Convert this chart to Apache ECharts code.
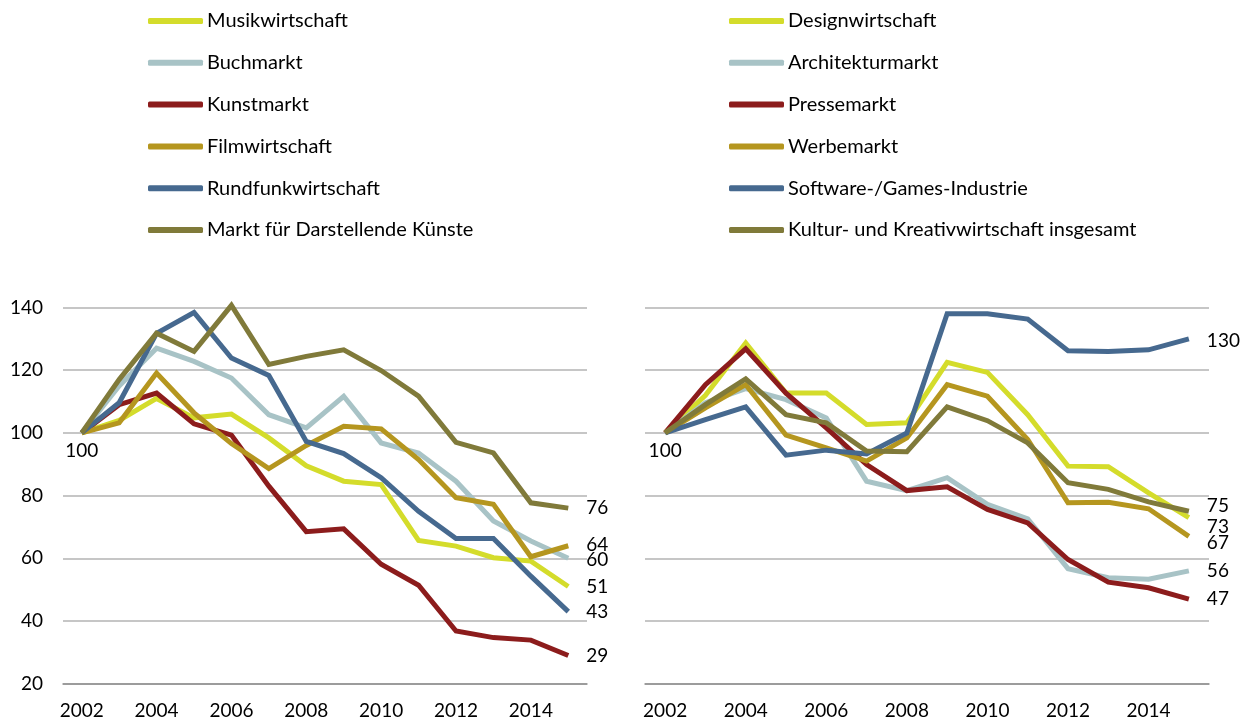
<!DOCTYPE html>
<html>
<head>
<meta charset="utf-8">
<script src="https://cdn.jsdelivr.net/npm/echarts@6/dist/echarts.min.js"></script>
<style>html,body{margin:0;padding:0;background:#fff;}#c{width:1248px;height:722px;}</style>
</head>
<body>
<div id="c"></div>
<script>
const years = ['2002','2003','2004','2005','2006','2007','2008','2009','2010','2011','2012','2013','2014','2015'];
const yTicks = [20, 40, 60, 80, 100, 120, 140];

// Left panel
const leftNames = ['Musikwirtschaft','Buchmarkt','Kunstmarkt','Filmwirtschaft','Rundfunkwirtschaft','Markt für Darstellende Künste'];
const musik    = [100,104,111,104.8,106,98.4,89.5,84.6,83.5,65.7,63.9,60.2,59.1,51];
const buch     = [100,115,127,122.8,117.5,105.8,101.6,111.7,96.8,93.6,84.6,71.9,65.5,60];
const kunst    = [100,109,112.7,102.9,99.3,83,68.5,69.4,58.1,51.4,36.8,34.7,33.9,29];
const film     = [100,103.2,119.1,106.4,96.6,88.6,96,102.1,101.3,91.5,79.3,77.2,60.5,64];
const rundfunk = [100,109.6,131.8,138.4,123.9,118.3,97.3,93.4,85.7,75,66.3,66.3,54.3,43];
const darst    = [100,117,131.8,126,140.7,121.8,124.4,126.5,119.9,111.7,97,93.6,77.7,76];

// Right panel
const rightNames = ['Designwirtschaft','Architekturmarkt','Pressemarkt','Werbemarkt','Software-/Games-Industrie','Kultur- und Kreativwirtschaft insgesamt'];
const design   = [100,112,128.7,112.7,112.7,102.7,103.2,122.5,119.3,105.8,89.4,89.2,80.9,73];
const archi    = [100,109.6,114.1,110.6,104.8,84.6,81.6,85.7,77.2,72.6,56.7,53.8,53.3,56];
const presse   = [100,115.4,126.8,112.7,101.6,89.9,81.6,82.8,75.6,71.3,59.6,52.4,50.6,47];
const werbe    = [100,108,115.4,99.3,95.2,91,98.4,115.4,111.7,97.9,77.7,77.9,75.8,67];
const software = [100,104.2,108.3,92.9,94.5,93.3,100,138,138,136.3,126.2,126,126.5,130];
const kkw      = [100,109,117.2,105.8,103.2,94.2,94,108.3,103.9,96.8,84.1,82,78,75];

const colors = ['#d4dc2b','#a8c3c6','#8c1c1c','#b5961f','#46698f','#807a3a'];
const FONT = 'Lato';

const leftData = [musik, buch, kunst, film, rundfunk, darst];
const rightData = [design, archi, presse, werbe, software, kkw];
const leftLabelOffsets = [[0,0],[0,2],[0,0],[0,-1],[0,0],[0,0]];
const rightLabelOffsets = [[0,9],[0,0],[0,0],[0,7],[0,2],[0,-5]];

function makeSeries(names, datas, idx, offsets) {
  return names.map((n, i) => ({
    name: n,
    type: 'line',
    xAxisIndex: idx,
    yAxisIndex: idx,
    clip: false,
    symbol: 'circle',
    symbolSize: 0,
    showSymbol: true,
    lineStyle: { width: 5, color: colors[i], join: 'miter', cap: 'butt' },
    itemStyle: { color: colors[i] },
    z: 2 + i,
    data: datas[i].map((v, j) => (i === 0 && j === 0) ? {
      value: v,
      label: { show: true, position: 'bottom', distance: 8, formatter: '100', color: '#000', fontFamily: FONT, fontSize: 19 }
    } : v),
    endLabel: {
      show: true,
      distance: 18,
      offset: offsets[i],
      formatter: p => String(Math.round(p.value)),
      color: '#000',
      fontFamily: FONT,
      fontSize: 19
    },
    emphasis: { disabled: true }
  }));
}

const legendCommon = {
  orient: 'vertical',
  icon: 'roundRect',
  padding: 0,
  itemWidth: 55,
  itemHeight: 6,
  itemGap: 21.8,
  textStyle: { fontFamily: FONT, fontSize: 20, color: '#000', lineHeight: 20, padding: [0,0,0,-1] },
  selectedMode: false
};

const xAxisCommon = {
  type: 'category',
  data: years,
  boundaryGap: true,
  axisTick: { show: false },
  axisLine: { show: true, lineStyle: { color: '#8f8f8f', width: 1.5 } },
  axisLabel: { interval: 1, color: '#000', fontFamily: FONT, fontSize: 19, margin: 18 }
};
const yAxisCommon = {
  type: 'value',
  min: yTicks[0],
  max: yTicks[yTicks.length - 1],
  interval: 20,
  axisLine: { show: false },
  axisTick: { show: false },
  splitLine: { show: true, lineStyle: { color: '#b3b3b3', width: 1.5 } }
};

const option = {
  animation: false,
  backgroundColor: '#fff',
  legend: [
    Object.assign({ left: 148, top: 11, data: leftNames }, legendCommon),
    Object.assign({ left: 729, top: 11, data: rightNames }, legendCommon)
  ],
  grid: [
    { left: 63, top: 307.5, width: 524, height: 376.2 },
    { left: 645, top: 307.5, width: 564, height: 376.2 }
  ],
  xAxis: [
    Object.assign({ gridIndex: 0 }, xAxisCommon),
    Object.assign({ gridIndex: 1 }, xAxisCommon)
  ],
  yAxis: [
    Object.assign({ gridIndex: 0, axisLabel: { show: true, color: '#000', fontFamily: FONT, fontSize: 19, margin: 20 } }, yAxisCommon),
    Object.assign({ gridIndex: 1, axisLabel: { show: false } }, yAxisCommon)
  ],
  series: makeSeries(leftNames, leftData, 0, leftLabelOffsets).concat(makeSeries(rightNames, rightData, 1, rightLabelOffsets))
};

const chart = echarts.init(document.getElementById('c'), null, { renderer: 'canvas' });
chart.setOption(option);
</script>
</body>
</html>
